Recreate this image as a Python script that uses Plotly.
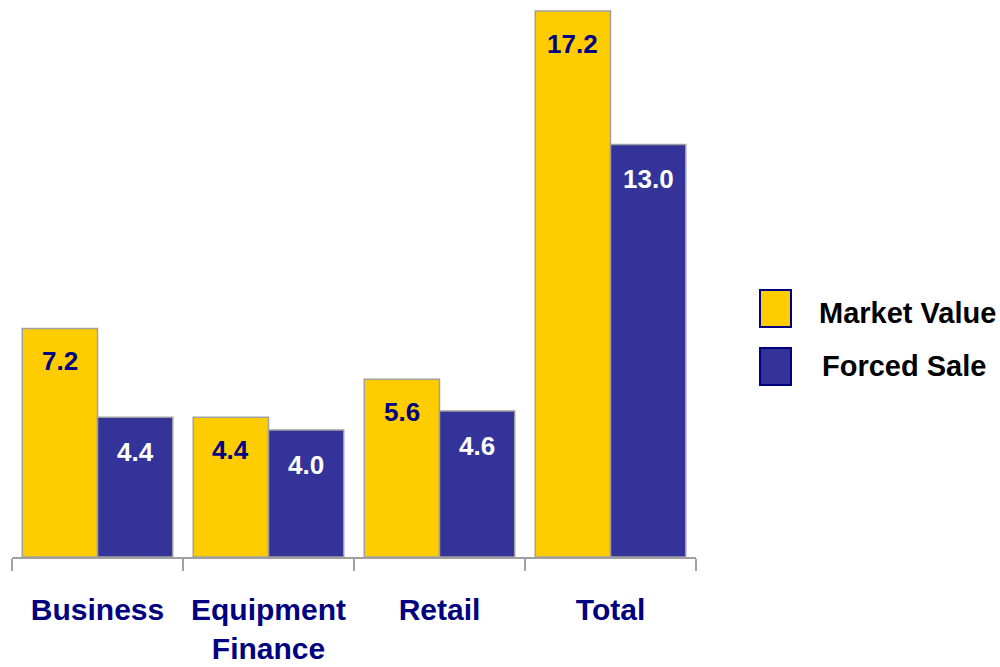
import plotly.graph_objects as go

# Chart data
categories = ["Business", "Equipment<br>Finance", "Retail", "Total"]
market_value = [7.2, 4.4, 5.6, 17.2]
forced_sale = [4.4, 4.0, 4.6, 13.0]
series_names = ["Market Value", "Forced Sale"]

YELLOW = "#FFCC00"
BLUE = "#333399"
NAVY = "#000080"
EDGE = "#A0A0A0"
FONT = "Arial, Liberation Sans, sans-serif"

fig = go.Figure()
fig.add_trace(go.Bar(x=categories, y=market_value, name=series_names[0],
                     marker=dict(color=YELLOW, line=dict(color=EDGE, width=1.5))))
fig.add_trace(go.Bar(x=categories, y=forced_sale, name=series_names[1],
                     marker=dict(color=BLUE, line=dict(color=EDGE, width=1.5))))

# Value labels just inside the top of each bar
bar_half = 37.6
for cat, v in zip(categories, market_value):
    fig.add_annotation(x=cat, y=v, text=f"{v:.1f}", showarrow=False,
                       xshift=-bar_half, yshift=-33, yanchor="middle",
                       font=dict(family=FONT, size=26, color=NAVY, weight="bold"))
for cat, v in zip(categories, forced_sale):
    fig.add_annotation(x=cat, y=v, text=f"{v:.1f}", showarrow=False,
                       xshift=bar_half, yshift=-35, yanchor="middle",
                       font=dict(family=FONT, size=26, color="white", weight="bold"))

# Legend drawn as large swatches with labels
plot_w, plot_h = 684, 557
def px_x(x):
    return (x - 12) / plot_w
def px_y(y):
    return (plot_h - y) / plot_h

legend_rows = [(series_names[0], YELLOW, 290, 327, 817, 313),
               (series_names[1], BLUE, 348, 385, 820, 366)]
for name, col, y0, y1, tx, ty in legend_rows:
    fig.add_shape(type="rect", xref="paper", yref="paper",
                  x0=px_x(760), x1=px_x(791), y0=px_y(y1), y1=px_y(y0),
                  fillcolor=col, line=dict(color=NAVY, width=2))
    fig.add_annotation(xref="paper", yref="paper", x=px_x(tx), y=px_y(ty),
                       text=name, showarrow=False, xanchor="left", yanchor="middle",
                       font=dict(family=FONT, size=29, color="black", weight="bold"))

fig.update_layout(
    width=1000, height=667,
    margin=dict(l=12, r=304, t=0, b=110),
    barmode="group", bargap=0.12, bargroupgap=0,
    showlegend=False,
    plot_bgcolor="white", paper_bgcolor="white",
    font=dict(family=FONT),
)
fig.update_xaxes(
    showline=True, linecolor=EDGE, linewidth=1.5,
    ticks="outside", tickson="boundaries", ticklen=12, tickcolor=EDGE, tickwidth=1.5,
    tickfont=dict(family=FONT, size=30, color=NAVY, weight="bold"),
    ticklabelstandoff=25,
    showgrid=False,
)
fig.update_yaxes(range=[0, 17.55], visible=False, showgrid=False)

fig.write_html("out.html")
